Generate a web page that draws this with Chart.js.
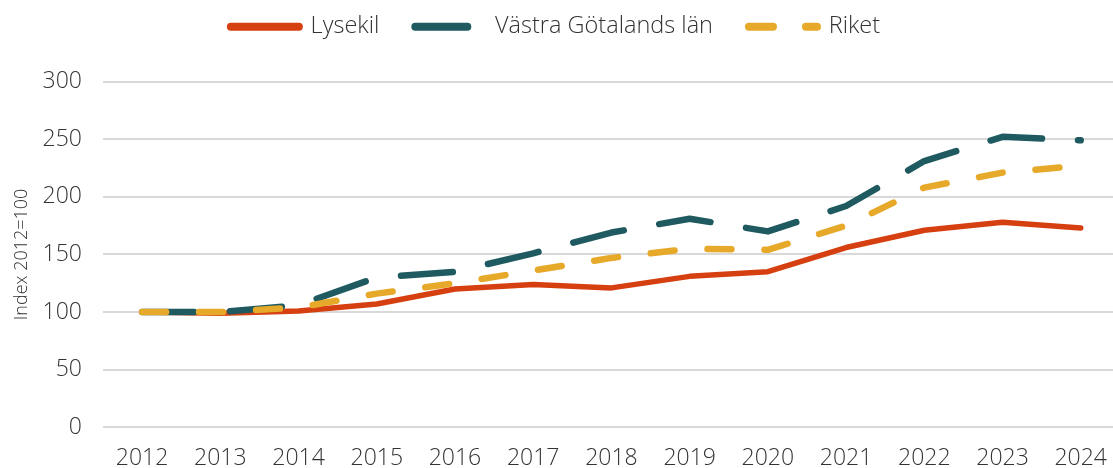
<!DOCTYPE html>
<html>
<head>
<meta charset="utf-8">
<script src="https://cdn.jsdelivr.net/npm/chart.js@4.4.1/dist/chart.umd.min.js"></script>
<style>
  html, body { margin: 0; padding: 0; background: #ffffff; overflow: hidden; }
  #wrap { position: relative; width: 1124px; height: 468px; }
</style>
</head>
<body>
<div id="wrap"><canvas id="c"></canvas></div>
<script>
const years = ['2012','2013','2014','2015','2016','2017','2018','2019','2020','2021','2022','2023','2024'];
const lysekil = [100, 99, 101, 107, 120, 124, 121, 131, 135, 156, 171, 178, 173];
const vastra = [100, 100, 106, 130, 135, 151, 169, 181, 170, 192, 231, 252, 249];
const riket = [100, 100, 104, 116, 125, 136, 147, 155, 154, 175, 208, 221, 227];
const seriesNames = ['Lysekil', 'Västra Götalands län', 'Riket'];
const yTicks = [0, 50, 100, 150, 200, 250, 300];
const yTitle = 'Index 2012=100';

const FONT = '"Open Sans", "DejaVu Sans", sans-serif';
const TXT = '#333333';

const legendGap = {
  id: 'legendGap',
  beforeInit(chart) {
    const orig = chart.legend.fit;
    chart.legend.fit = function () {
      orig.bind(chart.legend)();
      this.height += 33;
    };
  },
  afterLayout(chart) {
    chart.legend.left -= 12;
    chart.legend.right -= 12;
  }
};

new Chart(document.getElementById('c'), {
  type: 'line',
  plugins: [legendGap],
  data: {
    labels: years,
    datasets: [
      {
        label: seriesNames[0], data: lysekil, order: 3,
        borderColor: '#D63F0F', backgroundColor: '#D63F0F',
        borderWidth: 5.5, pointRadius: 0, tension: 0,
        borderCapStyle: 'round', borderJoinStyle: 'round'
      },
      {
        label: seriesNames[1], data: vastra, order: 2,
        borderColor: '#1F5A60', backgroundColor: '#1F5A60',
        borderWidth: 6.5, pointRadius: 0, tension: 0,
        borderDash: [52, 36], borderCapStyle: 'round', borderJoinStyle: 'round'
      },
      {
        label: seriesNames[2], data: riket, order: 1,
        borderColor: '#E6A92A', backgroundColor: '#E6A92A',
        borderWidth: 6.5, pointRadius: 0, tension: 0,
        borderDash: [24, 33], borderCapStyle: 'round', borderJoinStyle: 'round'
      }
    ]
  },
  options: {
    responsive: true,
    maintainAspectRatio: false,
    animation: false,
    layout: { padding: { top: -21, left: 11, right: 0, bottom: -21 } },
    plugins: {
      legend: {
        position: 'top',
        align: 'center',
        labels: {
          usePointStyle: true,
          pointStyle: 'line',
          pointStyleWidth: 68,
          boxHeight: 8,
          padding: 36,
          color: TXT,
          font: { family: FONT, size: 23.5, weight: 300 },
          sort: (a, b) => a.datasetIndex - b.datasetIndex,
          generateLabels(chart) {
            const items = Chart.defaults.plugins.legend.labels.generateLabels(chart);
            items.forEach(it => {
              const ds = chart.data.datasets[it.datasetIndex];
              it.lineWidth = 8;
              it.lineCap = 'round';
              it.pointStyle = 'line';
              it.lineDash = ds.borderDash || [];
              it.strokeStyle = ds.borderColor;
              it.fillStyle = ds.borderColor;
            });
            return items;
          }
        }
      },
      tooltip: { enabled: false }
    },
    scales: {
      x: {
        offset: true,
        grid: { display: false, drawTicks: false },
        border: { display: false },
        ticks: { color: TXT, padding: 17, maxRotation: 0, autoSkip: false,
                 font: { family: FONT, size: 23, weight: 300 } }
      },
      y: {
        min: 0, max: 300,
        afterBuildTicks(axis) { axis.ticks = yTicks.map(v => ({ value: v })); },
        grid: { color: '#D9D9D9', lineWidth: 2, drawTicks: false },
        border: { display: false },
        ticks: { color: TXT, padding: 21,
                 font: { family: FONT, size: 23, weight: 300 } },
        title: { display: true, text: yTitle, color: TXT, padding: { top: 0, bottom: -11 },
                 font: { family: FONT, size: 18, weight: 300 } }
      }
    }
  }
});
</script>
</body>
</html>
